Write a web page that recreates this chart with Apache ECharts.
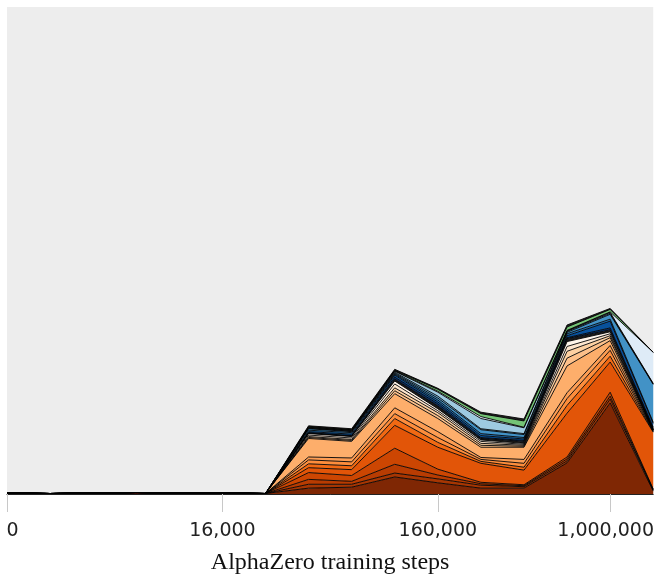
<!DOCTYPE html>
<html><head><meta charset="utf-8">
<script src="https://cdn.jsdelivr.net/npm/echarts@6/dist/echarts.min.js"></script>
<style>html,body{margin:0;padding:0;background:#fff}#c{width:657px;height:580px}</style>
</head><body><div id="c"></div>
<script>
// training steps (categories, log-spaced)
const steps = ['0','2,500','4,000','6,400','10,000','16,000','25,000','40,000','64,000','100,000','160,000','250,000','400,000','640,000','1,000,000','1,600,000'];
const shownTicks = [0, 5, 10, 14];

// stacked band values (share, %), bottom to top
const band01 = [0.2,0.1,0.2,0.3,0.2,0.2,0.1, 1.2,1.4,3.5,2.3,1.2,1.2,6.4,18.7,0.6];
const band02 = [0,0,0,0,0,0,0, 0.8,0.6,0.8,0.8,0.6,0.3,0.4,0.8,0.2];
const band03 = [0,0,0,0,0,0,0, 1.0,0.6,1.8,0.8,0.3,0.2,0.4,0.6,0.1];
const band04 = [0,0,0,0,0,0,0, 1.4,1.2,3.3,1.2,0.3,0.2,0.4,0.8,0.1];
const band05 = [0,0,0,0,0,0,0, 1.0,1.2,4.7,4.5,3.9,3.0,9.0,6.2,11.7];
const band06 = [0,0,0,0,0,0,0, 0.8,0.8,1.4,1.0,0.4,0.6,1.6,1.2,0.1];
const band07 = [0,0,0,0,0,0,0, 0.8,0.8,1.0,1.0,0.4,0.8,1.4,1.2,0.1];
const band08 = [0,0,0,0,0,0,0, 0.6,0.8,1.2,1.2,0.4,0.8,1.2,1.0,0.1];
const band09 = [0,0,0,0,0,0,0, 3.8,3.4,2.9,2.7,2.1,2.5,5.5,1.0,0.1];
const band10 = [0,0,0,0,0,0,0, 0.2,0.2,0.6,0.6,0.4,0.2,1.6,0.6,0.05];
const band11 = [0,0,0,0,0,0,0, 0.2,0.2,0.6,0.6,0.4,0.2,1.4,0.4,0.05];
const band12 = [0,0,0,0,0,0,0, 0.3,0.3,0.8,0.4,0.4,0.2,1.0,0.4,0.05];
const band13 = [0,0,0,0,0,0,0, 0.3,0.3,0.6,0.4,0.3,0.2,1.0,0.4,0.05];
const band14 = [0,0,0,0,0,0,0, 0.1,0.1,0.4,0.6,0.3,0.4,0.6,0.4,0.2];
const band15 = [0,0,0,0,0,0,0, 0.1,0.1,0.4,0.4,0.2,0.2,0.2,0.4,0.2];
const band16 = [0,0,0,0,0,0,0, 0.2,0.3,0.4,0.4,0.4,0.3,0.4,1.4,0.8];
const band17 = [0,0,0,0,0,0,0, 0.3,0.3,0.2,0.4,0.4,0.3,0.4,0.4,0.2];
const band18 = [0,0,0,0,0,0,0, 0.3,0.2,0.2,0.4,0.8,0.6,0.3,1.0,7.8];
const band19 = [0,0,0,0,0,0,0, 0.1,0.1,0.2,0.4,0.2,0.2,0.2,0.2,0.1];
const band20 = [0,0,0,0,0,0,0, 0.1,0.1,0.2,0.8,2.1,1.2,0.1,0.2,0.1];
const band21 = [0,0,0,0,0,0,0, 0.1,0.1,0.1,0.2,0.4,0.1,0.1,0.1,6.4];
const band22 = [0,0,0,0,0,0,0, 0.1,0.1,0.1,0.4,0.6,1.3,0.7,0.5,0];
const band23 = [0,0,0,0,0,0,0, 0.2,0.2,0.2,0.2,0.3,0.4,0.4,0.2,0];

const bands = [band01,band02,band03,band04,band05,band06,band07,band08,band09,band10,band11,band12,
               band13,band14,band15,band16,band17,band18,band19,band20,band21,band22,band23];
const colors = ['#7f2704','#a63603','#b83c02','#cc4602','#e25508','#f16913','#fd8d3c','#fd9d53','#fdae6b',
                '#fdc08a','#fdd0a2','#fee6ce','#fff5eb','#1a1a1a','#08306b','#08519c','#2171b5','#4292c6',
                '#6baed6','#9ecae1','#deebf7','#74c476','#222222'];

const chart = echarts.init(document.getElementById('c'), null, {renderer:'canvas'});
const isShown = (i) => shownTicks.indexOf(i) >= 0;
chart.setOption({
  animation: false,
  grid: {left: 7, right: 0, top: 7, bottom: 86, show: true, backgroundColor: '#ededed', borderWidth: 0},
  xAxis: {
    type: 'category', boundaryGap: false, data: steps,
    name: 'AlphaZero training steps', nameLocation: 'middle', nameGap: 57,
    nameTextStyle: {fontFamily: 'Liberation Serif', fontSize: 24, color: '#111'},
    axisLine: {lineStyle: {color: '#222', width: 1}},
    axisTick: {interval: isShown, length: 18, lineStyle: {color: '#c8c8c8', width: 1}},
    axisLabel: {
      interval: isShown, margin: 28, fontFamily: 'DejaVu Sans', fontSize: 19, color: '#222',
      formatter: (v, i) => i === 0 ? '{l|' + v + '}' : (i === 14 ? '{r|' + v + '}' : v),
      rich: {
        l: {fontFamily: 'DejaVu Sans', fontSize: 19, color: '#222', padding: [0, 0, 0, 11]},
        r: {fontFamily: 'DejaVu Sans', fontSize: 19, color: '#222', padding: [0, 9, 0, 0]}
      }
    },
    splitLine: {show: false}
  },
  yAxis: {type: 'value', min: 0, max: 100, show: false, splitLine: {show: false}},
  series: bands.map((d, k) => ({
    name: 'band ' + (k + 1), type: 'line', stack: 'all', data: d, symbol: 'none',
    lineStyle: {color: '#000', width: 0.9}, areaStyle: {color: colors[k], opacity: 1},
    emphasis: {disabled: true}, silent: true
  }))
});
</script></body></html>
